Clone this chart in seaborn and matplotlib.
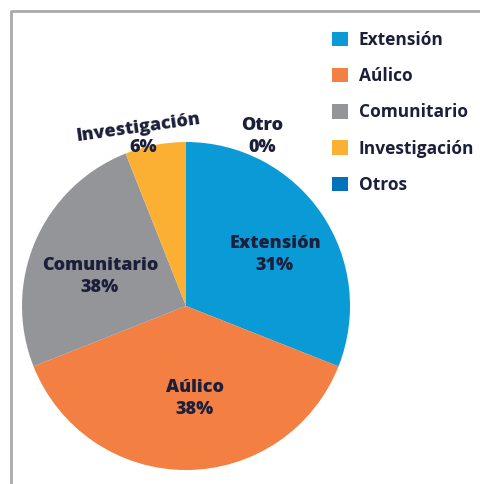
import matplotlib
matplotlib.use("Agg")
import matplotlib.pyplot as plt
import matplotlib.patches as mpatches
import seaborn as sns
import numpy as np

# Data
categories = ["Extensión", "Aúlico", "Comunitario", "Investigación", "Otros"]
slice_values = [31, 38, 25, 6, 0]          # drawn slice sizes
label_names = ["Extensión", "Aúlico", "Comunitario", "Investigación", "Otro"]
label_pcts = ["31%", "38%", "38%", "6%", "0%"]  # printed labels as shown
colors = ["#0a9ad6", "#f47f42", "#939598", "#fbb033", "#0072bc"]

sns.set_theme(style="white")
plt.rcParams['font.family'] = ['Open Sans', 'DejaVu Sans']

W, H = 481, 484
fig = plt.figure(figsize=(W / 100, H / 100), dpi=100)
ax = fig.add_axes([0, 0, 1, 1])

cx, cy, r = 186, H - 306, 164
wedges, _ = ax.pie(slice_values, colors=sns.color_palette(colors), startangle=90,
                   counterclock=False, radius=r, center=(cx, cy),
                   wedgeprops=dict(linewidth=0))
ax.set_xlim(0, W)
ax.set_ylim(0, H)
ax.set_aspect('equal')
ax.axis('off')

# frame
ax.plot([11, 11, W + 5], [-5, H - 11, H - 11], color="#aaaaaa", lw=2, clip_on=False)

txt = dict(ha='center', va='center', fontsize=13, fontweight='heavy', color='#1c1f3a')
# label placement (offsets from centre, pixels)
offsets = [(89, 52), (9, -92), (-86, 30), (None, None), (76, 170)]
for i, (name, pct) in enumerate(zip(label_names, label_pcts)):
    if i == 3:
        ax.text(139, H - 128, name, rotation=8, **txt)
        ax.text(143, H - 148, pct, **txt)
        continue
    dx, dy = offsets[i]
    ax.text(cx + dx, cy + dy + 11, name, **txt)
    ax.text(cx + dx, cy + dy - 11, pct, **txt)

handles = [mpatches.Patch(facecolor=c, edgecolor='none') for c in colors]
leg = ax.legend(handles, categories, loc='upper left', bbox_to_anchor=(332 / W, 1 - 31 / H),
                bbox_transform=fig.transFigure, frameon=False, borderpad=0,
                borderaxespad=0, handlelength=0.9,
                handleheight=0.9, handletextpad=0.65, labelspacing=1.05,
                prop=dict(family='Open Sans', weight='bold', size=12.5))
for t in leg.get_texts():
    t.set_color('#1c1f3a')

fig.savefig("out.png", dpi=100)
